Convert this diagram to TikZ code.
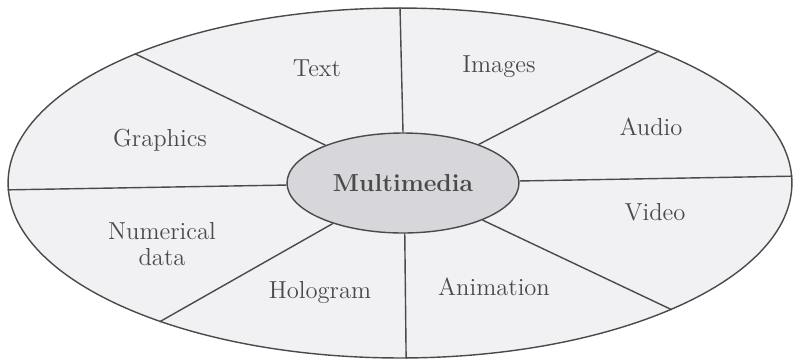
\documentclass[tikz,border=0pt]{standalone}
\usepackage{xcolor}
\usepackage{tikz}
\usetikzlibrary{shapes.geometric}

\definecolor{inkgray}{HTML}{4A4A4A}
\definecolor{paper}{HTML}{F1F1F3}
\definecolor{hubfill}{HTML}{D6D6DB}

\begin{document}
\begin{tikzpicture}[x=0.02cm, y=-0.02cm, font=\fontsize{14}{15}\selectfont,
    rim/.style={draw=inkgray, line width=0.8pt, fill=paper, ellipse,
      minimum width=15.68cm, minimum height=7cm, inner sep=0pt},
    hub/.style={draw=inkgray, line width=0.8pt, fill=hubfill, ellipse,
      minimum width=4.64cm, minimum height=2cm, inner sep=0pt,
      font=\fontsize{14}{15}\selectfont\bfseries, text=inkgray},
    divider/.style={draw=inkgray, line width=0.8pt},
    sector/.style={text=inkgray, align=center}]
  \useasboundingbox (0,0) rectangle (795,360);

  % outer ring and centre
  \node[rim] (outer) at (400,183) {};
  \node[hub] (hub) at (403,183) {Multimedia};

  % spokes
  \foreach \a in {90,154,27,1,181,210,272,335}
    \draw[divider] (hub.\a) -- (outer.\a);

  % sector labels
  \node[sector] (text) at (317,68) {Text};
  \node[sector] (images) at (499,67) {Images};
  \node[sector] (audio) at (651,127) {Audio};
  \node[sector] (video) at (655,212) {Video};
  \node[sector] (animation) at (494,287) {Animation};
  \node[sector] (hologram) at (320,292) {Hologram};
  \node[sector] (numdata) at (162,244) {Numerical\\data};
  \node[sector] (graphics) at (160,140) {Graphics};
\end{tikzpicture}
\end{document}
